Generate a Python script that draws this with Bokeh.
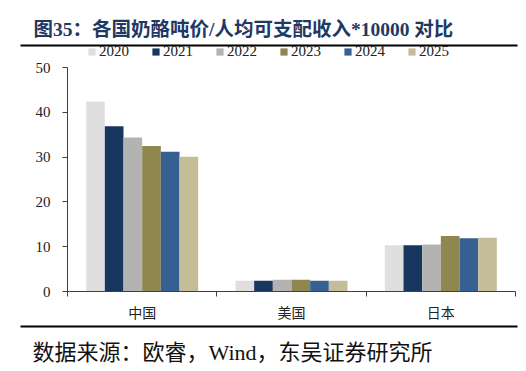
from bokeh.plotting import figure
from bokeh.models import (FixedTicker, Legend, LegendItem, Label, Range1d)
from bokeh.embed import file_html
from bokeh.resources import INLINE

countries = ["中国", "美国", "日本"]
years = ["2020", "2021", "2022", "2023", "2024", "2025"]
china = [42.4, 36.9, 34.4, 32.5, 31.2, 30.1]
usa = [2.4, 2.4, 2.6, 2.6, 2.4, 2.4]
japan = [10.3, 10.3, 10.5, 12.4, 11.9, 12.0]
colors = ["#DFDFDF", "#17375E", "#B3B3B3", "#8E8750", "#366092", "#C4BD97"]
y_ticks = [0, 10, 20, 30, 40, 50]

title_text = "图35：各国奶酪吨价/人均可支配收入*10000 对比"
source_text = "数据来源：欧睿，Wind，东吴证券研究所"

SERIF = "Liberation Serif, Noto Sans CJK SC"
CJK = "Noto Sans CJK SC"
W = 526
HEAD_H, MAIN_H, FOOT_H = 60, 264, 47


def blank(h):
    f = figure(width=W, height=h, output_backend="svg", toolbar_location=None,
               min_border=0, x_range=Range1d(0, W), y_range=Range1d(0, h),
               x_axis_type=None, y_axis_type=None)
    f.grid.visible = False
    f.outline_line_color = None
    f.background_fill_color = "white"
    f.border_fill_color = "white"
    return f


# ---------- header: title, rule, legend ----------
head = blank(HEAD_H)
head.add_layout(Label(x=33, y=HEAD_H - 29, text=title_text,
                      text_font=SERIF, text_font_size="19.5px", text_font_style="bold",
                      text_color="#1F3864", text_baseline="middle"))
head.segment(x0=[20], y0=[HEAD_H - 45], x1=[517], y1=[HEAD_H - 45],
             line_color="black", line_width=2)

# ---------- main chart ----------
p = figure(width=W, height=MAIN_H, output_backend="svg", toolbar_location=None,
           min_border_left=67, min_border_right=11, min_border_top=7, min_border_bottom=32,
           x_range=Range1d(0, len(countries)), y_range=Range1d(0, 50))
p.outline_line_color = None
p.xgrid.visible = False
p.ygrid.visible = False
p.background_fill_color = "white"
p.border_fill_color = "white"

bw = 0.125
items = []
for i, yr in enumerate(years):
    vals = [china[i], usa[i], japan[i]]
    xs = [c + 0.5 + (i - 2.5) * bw for c in range(len(countries))]
    p.vbar(x=xs, top=vals, width=bw, bottom=0, fill_color=colors[i], line_color=None)
    # zero-height swatch renderer in the header, only to carry the legend style
    r = head.vbar(x=[0], top=[0], bottom=[0], width=1, fill_color=colors[i], line_color=None)
    items.append(LegendItem(label=yr, renderers=[r]))

axis_color = "#404040"
p.xaxis.ticker = FixedTicker(ticks=[c + 0.5 for c in range(len(countries))],
                             minor_ticks=list(range(len(countries) + 1)))
p.xaxis.major_label_overrides = {c + 0.5: n for c, n in enumerate(countries)}
p.xaxis.major_tick_out = 0
p.xaxis.major_tick_in = 0
p.xaxis.minor_tick_out = 5
p.xaxis.minor_tick_in = 0
p.xaxis.minor_tick_line_color = axis_color
p.xaxis.axis_line_color = axis_color
p.xaxis.major_label_text_font = CJK
p.xaxis.major_label_text_font_size = "14px"
p.xaxis.major_label_text_color = "#222222"
p.xaxis.major_label_standoff = 5

p.yaxis.ticker = FixedTicker(ticks=y_ticks)
p.yaxis.minor_tick_line_color = None
p.yaxis.major_tick_out = 5
p.yaxis.major_tick_in = 0
p.yaxis.major_tick_line_color = axis_color
p.yaxis.axis_line_color = axis_color
p.yaxis.major_label_text_font = "Liberation Serif"
p.yaxis.major_label_text_font_size = "15px"
p.yaxis.major_label_text_color = "#222222"
p.yaxis.major_label_standoff = 12

legend = Legend(items=items, orientation="horizontal", location=(87, 0),
                glyph_width=9, glyph_height=9, label_standoff=3, spacing=22,
                padding=0, margin=0, border_line_color=None, background_fill_alpha=0,
                label_text_font="Liberation Serif", label_text_font_size="15px",
                label_text_color="#222222", label_height=12)
head.add_layout(legend, "center")

# ---------- footer: rule, source ----------
foot = blank(FOOT_H)
foot.segment(x0=[20], y0=[FOOT_H - 2], x1=[517], y1=[FOOT_H - 2],
             line_color="black", line_width=2)
foot.add_layout(Label(x=32, y=FOOT_H - 28, text=source_text,
                      text_font=SERIF, text_font_size="22px",
                      text_color="#111111", text_baseline="middle"))

open("out.html", "w").write(file_html([head, p, foot], INLINE))
